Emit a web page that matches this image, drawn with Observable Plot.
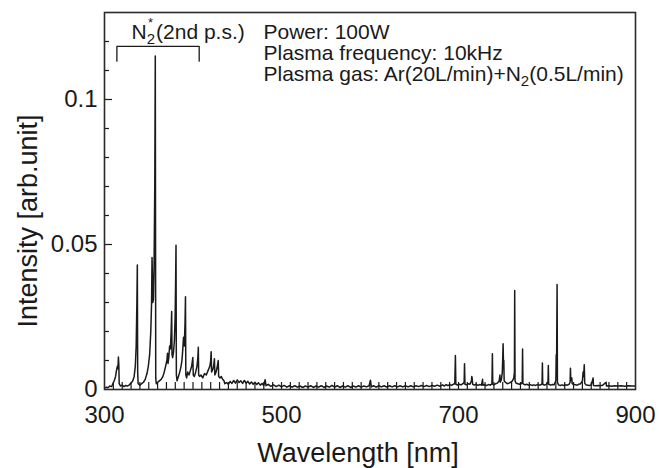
<!DOCTYPE html>
<html><head><meta charset="utf-8">
<script src="https://cdn.jsdelivr.net/npm/d3@7"></script>
<script src="https://cdn.jsdelivr.net/npm/@observablehq/plot@0.6"></script>
<style>html,body{margin:0;padding:0;background:#fff;} svg{display:block}</style>
</head><body><div id="chart"></div>
<script>
// [wavelength nm, intensity arb.unit]
const uvBand = [
  [300,0.0005],[302,0.0008],[304,0.0006],[306,0.0012],[308,0.0010],[309.5,0.0020],[311,0.0030],[312.5,0.0045],
  [313.5,0.0065],[314.5,0.0080],[315.2,0.0072],[315.7,0.0112],[316.2,0.0085],[316.6,0.0020],[318,0.0012],[320,0.0015],
  [322,0.0010],[324,0.0014],[326,0.0012],[328,0.0016],[330,0.0022],[332,0.0030],[333.5,0.0045],[334.8,0.0080],
  [335.8,0.0150],[336.6,0.0300],[337.1,0.0429],[337.5,0.0060],[338,0.0020],[340,0.0015],[342,0.0020],[344,0.0025],
  [346,0.0035],[348,0.0055],[349.5,0.0080],[351,0.0120],[352.3,0.0200],[353.2,0.0300],[353.7,0.0455],[354.1,0.0400],
  [354.5,0.0300],[355.3,0.0310],[356,0.0420],[356.8,0.0700],[357.4,0.1150],[357.9,0.0040],[358.5,0.0020],[360,0.0025],
  [362,0.0030],[364,0.0035],[366,0.0045],[367.5,0.0060],[369,0.0080],[370.5,0.0100],[371.2,0.0125],[371.8,0.0090],
  [372.6,0.0110],[373.6,0.0150],[374.5,0.0140],[375.3,0.0200],[375.9,0.0269],[376.3,0.0120],[377,0.0110],[378,0.0130],
  [379,0.0170],[379.8,0.0250],[380.4,0.0380],[380.8,0.0497],[381.2,0.0050],[382,0.0030],[383.5,0.0045],[385,0.0060],
  [386.5,0.0080],[387.5,0.0100],[388.5,0.0140],[389.3,0.0180],[390.2,0.0150],[391,0.0230],[391.5,0.0320],[391.9,0.0050],
  [392.8,0.0040],[394,0.0060],[395.5,0.0050],[397,0.0065],[398.5,0.0080],[399.8,0.0110],[400.3,0.0050],[401.5,0.0045],
  [403,0.0060],[404.5,0.0080],[405.5,0.0110],[406,0.0146],[406.4,0.0050],[407.5,0.0045],[409,0.0050],[411,0.0040],
  [413,0.0055],[415,0.0050],[417,0.0065],[419,0.0080],[420,0.0100],[420.5,0.0130],[421,0.0060],[422.5,0.0070],
  [423.5,0.0085],[424.2,0.0106],[424.7,0.0050],[426,0.0060],[427.2,0.0075],[428.5,0.0100],[429,0.0045],[430.5,0.0040],
  [432,0.0045],[433.5,0.0035],[435,0.0030],[436,0.0020],[438,0.0024]
];
const visibleBase = [
  [440,0.0018],[442,0.0028],[444,0.0021],[446,0.0031],[448,0.0022],[450,0.0033],[452,0.0024],[454,0.0030],
  [456,0.0021],[458,0.0031],[460,0.0022],[462,0.0028],[464,0.0019],[466,0.0026],[468,0.0018],[470,0.0025],
  [472,0.0017],[474,0.0023],[476,0.0015],[478,0.0021],[480,0.0014],[481.5,0.0034],[482.5,0.0013],[485,0.0018],
  [488,0.0011],[491,0.0016],[494,0.0010],[497,0.0015],[500,0.0009],[503,0.0014],[506,0.0008],[509,0.0013],
  [512,0.0008],[515,0.0013],[518,0.0008],[521,0.0012],[524,0.0007],[527,0.0012],[530,0.0008],[533,0.0013],
  [536,0.0007],[539,0.0012],[542,0.0008],[545,0.0013],[548,0.0007],[551,0.0012],[554,0.0008],[557,0.0014],
  [560,0.0008],[563,0.0013],[566,0.0007],[569,0.0012],[572,0.0008],[575,0.0013],[578,0.0007],[581,0.0012],
  [584,0.0008],[587,0.0013],[590,0.0008],[593,0.0012],[596,0.0009],[599,0.0013],[600.5,0.0032],[601.5,0.0009],
  [604,0.0013],[607,0.0008],[610,0.0013],[613,0.0009],[616,0.0013],[619,0.0008],[622,0.0013],[625,0.0009],
  [628,0.0013],[631,0.0009],[634,0.0013],[637,0.0009],[640,0.0013],[643,0.0009],[646,0.0013],[649,0.0009],
  [652,0.0013],[655,0.0010],[658,0.0014],[661,0.0010],[664,0.0014],[667,0.0010],[670,0.0014],[673,0.0011],
  [676,0.0015],[679,0.0011],[682,0.0016],[684,0.0012],[686,0.0017],[688,0.0013],[690,0.0017]
];
const nearIR = [
  [692,0.0014],[694,0.0018],[695.8,0.0020],[696.5,0.0117],[697,0.0018],[699,0.0015],[701,0.0018],[703,0.0016],
  [705,0.0020],[706.4,0.0025],[706.8,0.0089],[707.3,0.0018],[709,0.0016],[711,0.0020],[713,0.0018],[714.7,0.0030],
  [715,0.0045],[715.4,0.0040],[716,0.0018],[718,0.0015],[720,0.0018],[722,0.0014],[724,0.0017],[726,0.0015],
  [727.2,0.0035],[727.6,0.0015],[730,0.0016],[732,0.0014],[734,0.0017],[736,0.0015],[737.8,0.0020],[738.3,0.0123],
  [738.7,0.0018],[740,0.0016],[742,0.0020],[744,0.0022],[746,0.0030],[746.8,0.0050],[747.2,0.0025],[748.5,0.0035],
  [749.5,0.0060],[750,0.0110],[750.4,0.0158],[750.8,0.0095],[751.2,0.0100],[751.6,0.0030],[753,0.0025],[755,0.0020],
  [757,0.0022],[759,0.0025],[761,0.0030],[762.5,0.0040],[763.2,0.0060],[763.5,0.0341],[763.9,0.0030],[765,0.0022],
  [767,0.0020],[769,0.0018],[771,0.0020],[772,0.0025],[772.4,0.0140],[772.8,0.0020],[775,0.0016],[777,0.0018],
  [779,0.0015],[781,0.0017],[783,0.0014],[785,0.0016],[787,0.0014],[789,0.0017],[791,0.0015],[793,0.0016],
  [794.4,0.0020],[794.8,0.0091],[795.2,0.0018],[797,0.0015],[799,0.0017],[801.1,0.0025],[801.5,0.0083],[801.9,0.0018],
  [804,0.0015],[806,0.0017],[808,0.0016],[810,0.0030],[810.4,0.0120],[810.9,0.0115],[811.4,0.0362],[811.8,0.0025],
  [813,0.0016],[815,0.0014],[817,0.0016],[819,0.0014],[821,0.0016],[823,0.0015],[825,0.0018],[826.1,0.0025],
  [826.5,0.0073],[826.9,0.0030],[828,0.0040],[828.5,0.0020],[830,0.0017],[832,0.0016],[834,0.0015],[836,0.0018],
  [838,0.0020],[840,0.0030],[840.8,0.0060],[841.4,0.0045],[842.1,0.0085],[842.6,0.0022],[844,0.0016],[846,0.0015],
  [848,0.0014],[850,0.0016],[852.1,0.0040],[852.5,0.0014],[855,0.0013],[858,0.0014],[860,0.0013],[863,0.0015],
  [866.8,0.0025],[867.2,0.0012],[870,0.0013],[873,0.0011],[876,0.0013],[880,0.0012],[884,0.0013],[888,0.0011],
  [892,0.0013],[896,0.0012],[900,0.0012]
];

const xTickLabels = [300, 500, 700, 900];
const yTickLabels = [0, 0.05, 0.1];
const bracketNm = [314, 314, 407, 407];
const bracketInt = [0.1132, 0.1183, 0.1183, 0.1132];
const annotationLines = ["Power: 100W", "Plasma frequency: 10kHz", "Plasma gas: Ar(20L/min)+N2(0.5L/min)"];
const bandLabel = "N2*(2nd p.s.)";
const xTitle = "Wavelength [nm]";
const yTitle = "Intensity [arb.unit]";

const spectrum = [...uvBand, ...visibleBase, ...nearIR].map(([nm, v]) => ({nm, v}));
const bracket = bracketNm.map((nm, i) => ({nm, v: bracketInt[i]}));
const xMinor = d3.range(310, 900, 10);
const yMajorInner = [0.05, 0.1];
const yMinor = d3.range(1, 13).map(i => i / 100).filter(v => Math.abs(v - 0.05) > 1e-9 && Math.abs(v - 0.1) > 1e-9);

const ink = "#1a1a1a";
const font = "'Liberation Sans', Arial, Helvetica, sans-serif";

const annotationMarks = annotationLines.map((line, i) =>
  Plot.text([line], {text: d => d, frameAnchor: "top-left", textAnchor: "start", lineAnchor: "bottom",
    dx: 159, dy: 26 + i * 21, fontSize: 21, fill: ink})
);

const svg = Plot.plot({
  width: 659, height: 468,
  marginLeft: 104, marginRight: 24, marginTop: 12, marginBottom: 79,
  style: {fontFamily: font, background: "#fff", color: ink},
  x: {domain: [300, 900], axis: null},
  y: {domain: [0, 0.13], axis: null},
  marks: [
    Plot.line(spectrum, {x: "nm", y: "v", stroke: ink, strokeWidth: 1.5, clip: true}),
    Plot.ruleX(xMinor, {x: d => d, y1: 0, y2: 0, insetTop: -7, stroke: ink, strokeWidth: 1.2}),
    Plot.ruleY(yMinor, {y: d => d, x1: 300, x2: 300, insetRight: -5, stroke: ink, strokeWidth: 1.2}),
    Plot.ruleY(yMajorInner, {y: d => d, x1: 300, x2: 300, insetRight: -8, stroke: ink, strokeWidth: 1.2}),
    Plot.frame({stroke: "#2a2a2a", strokeWidth: 1.6}),
    Plot.text(xTickLabels, {x: d => d, text: d => String(d), frameAnchor: "bottom", lineAnchor: "top", dy: 16, fontSize: 24, fill: ink}),
    Plot.text(yTickLabels, {y: d => d, text: d => String(d), frameAnchor: "left", textAnchor: "end", dx: -7, fontSize: 24, fill: ink}),
    Plot.text([xTitle], {text: d => d, frameAnchor: "bottom", textAnchor: "middle", lineAnchor: "bottom", dx: -12, dy: 72, fontSize: 27, fill: ink}),
    Plot.text([yTitle], {text: d => d, frameAnchor: "left", textAnchor: "middle", lineAnchor: "middle", rotate: -90, dx: -76, dy: 20, fontSize: 27, fill: ink}),
    Plot.line(bracket, {x: "nm", y: "v", stroke: ink, strokeWidth: 1.3}),
    Plot.text([bandLabel], {text: d => d, frameAnchor: "top-left", textAnchor: "start", lineAnchor: "bottom", dx: 27, dy: 26, fontSize: 21, fill: ink}),
    ...annotationMarks
  ]
});

svg.querySelectorAll("text").forEach(t => {
  if (t.textContent === bandLabel) {
    t.innerHTML = 'N<tspan dy="5" font-size="15">2</tspan><tspan dx="-7" dy="-17" font-size="13">*</tspan><tspan dx="3" dy="12">(2nd p.s.)</tspan>';
  } else if (t.textContent === annotationLines[2]) {
    t.innerHTML = 'Plasma gas: Ar(20L/min)+N<tspan dy="5" font-size="15">2</tspan><tspan dy="-5">(0.5L/min)</tspan>';
  }
});

document.getElementById("chart").appendChild(svg);
</script>
</body></html>
